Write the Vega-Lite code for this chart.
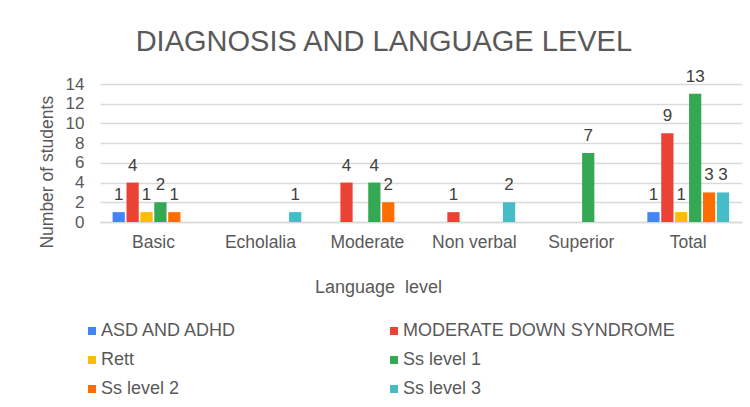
{
  "$schema": "https://vega.github.io/schema/vega-lite/v6.json",
  "width": 641.7,
  "height": 138,
  "autosize": {"type": "none"},
  "padding": {"left": 100, "top": 84, "right": 8.3, "bottom": 185},
  "background": "white",
  "title": {
    "text": "DIAGNOSIS AND LANGUAGE LEVEL",
    "fontSize": 29,
    "font": "Liberation Sans",
    "fontWeight": "normal",
    "color": "#595959",
    "anchor": "middle",
    "frame": "group",
    "dx": -37,
    "dy": 45,
    "baseline": "alphabetic",
    "offset": 33
  },
  "config": {
    "font": "Liberation Sans",
    "view": {"stroke": null},
    "axis": {"labelFont": "Liberation Sans", "titleFont": "Liberation Sans"}
  },
  "data": {
    "values": [
      {"level": "Basic", "group": "ASD AND ADHD", "n": 1},
      {"level": "Basic", "group": "MODERATE DOWN SYNDROME", "n": 4},
      {"level": "Basic", "group": "Rett", "n": 1},
      {"level": "Basic", "group": "Ss level 1", "n": 2},
      {"level": "Basic", "group": "Ss level 2", "n": 1},
      {"level": "Echolalia", "group": "Ss level 3", "n": 1},
      {"level": "Moderate", "group": "MODERATE DOWN SYNDROME", "n": 4},
      {"level": "Moderate", "group": "Ss level 1", "n": 4},
      {"level": "Moderate", "group": "Ss level 2", "n": 2},
      {"level": "Non verbal", "group": "MODERATE DOWN SYNDROME", "n": 1},
      {"level": "Non verbal", "group": "Ss level 3", "n": 2},
      {"level": "Superior", "group": "Ss level 1", "n": 7},
      {"level": "Total", "group": "ASD AND ADHD", "n": 1},
      {"level": "Total", "group": "MODERATE DOWN SYNDROME", "n": 9},
      {"level": "Total", "group": "Rett", "n": 1},
      {"level": "Total", "group": "Ss level 1", "n": 13},
      {"level": "Total", "group": "Ss level 2", "n": 3},
      {"level": "Total", "group": "Ss level 3", "n": 3}
    ]
  },
  "encoding": {
    "x": {
      "field": "level",
      "type": "nominal",
      "sort": ["Basic", "Echolalia", "Moderate", "Non verbal", "Superior", "Total"],
      "scale": {"paddingInner": 0.22, "paddingOuter": 0.11},
      "axis": {
        "title": "Language\u00a0\u00a0level",
        "labelAngle": 0,
        "labelFontSize": 17.5,
        "labelColor": "#595959",
        "labelBaseline": "alphabetic",
        "labelPadding": 25,
        "ticks": false,
        "domain": true,
        "domainColor": "#d9d9d9",
        "domainWidth": 1.5,
        "titleFontSize": 18,
        "titleFontWeight": "normal",
        "titleColor": "#595959",
        "titleX": 278,
        "titleY": 70,
        "titleBaseline": "alphabetic",
        "titleAlign": "center",
        "titleAnchor": null
      }
    },
    "xOffset": {
      "field": "group",
      "type": "nominal",
      "scale": {
        "domain": ["ASD AND ADHD", "MODERATE DOWN SYNDROME", "Rett", "Ss level 1", "Ss level 2", "Ss level 3"],
        "paddingInner": 0.12,
        "paddingOuter": 0.06
      }
    },
    "y": {
      "field": "n",
      "type": "quantitative",
      "scale": {"domain": [0, 14], "nice": false},
      "axis": {
        "title": "Number of students",
        "values": [0, 2, 4, 6, 8, 10, 12, 14],
        "labelFontSize": 17,
        "labelColor": "#595959",
        "labelPadding": 16,
        "ticks": false,
        "domain": false,
        "gridColor": "#d9d9d9",
        "gridWidth": 1.5,
        "titleFontSize": 17.5,
        "titleFontWeight": "normal",
        "titleColor": "#595959",
        "titleX": -53,
        "titleY": 87.7,
        "titleAngle": -90,
        "titleAlign": "center",
        "titleBaseline": "middle",
        "titleAnchor": null
      }
    }
  },
  "layer": [
    {
      "mark": {"type": "bar"},
      "encoding": {
        "color": {
          "field": "group",
          "type": "nominal",
          "scale": {
            "domain": ["ASD AND ADHD", "MODERATE DOWN SYNDROME", "Rett", "Ss level 1", "Ss level 2", "Ss level 3"],
            "range": ["#4285F4", "#EA4335", "#FBBC04", "#34A853", "#FF6D01", "#46BDC6"]
          },
          "legend": {
            "title": null,
            "orient": "none",
            "legendX": -17,
            "legendY": 238,
            "direction": "horizontal",
            "columns": 2,
            "columnPadding": 147,
            "rowPadding": 11,
            "symbolType": "square",
            "symbolSize": 64,
            "symbolStrokeWidth": 0,
            "labelFontSize": 18,
            "labelColor": "#595959",
            "labelOffset": 0,
            "labelLimit": 400
          }
        }
      }
    },
    {
      "mark": {"type": "text", "fontSize": 17, "color": "#404040", "baseline": "alphabetic", "dy": -12},
      "encoding": {
        "text": {"field": "n", "type": "quantitative"}
      }
    }
  ]
}
